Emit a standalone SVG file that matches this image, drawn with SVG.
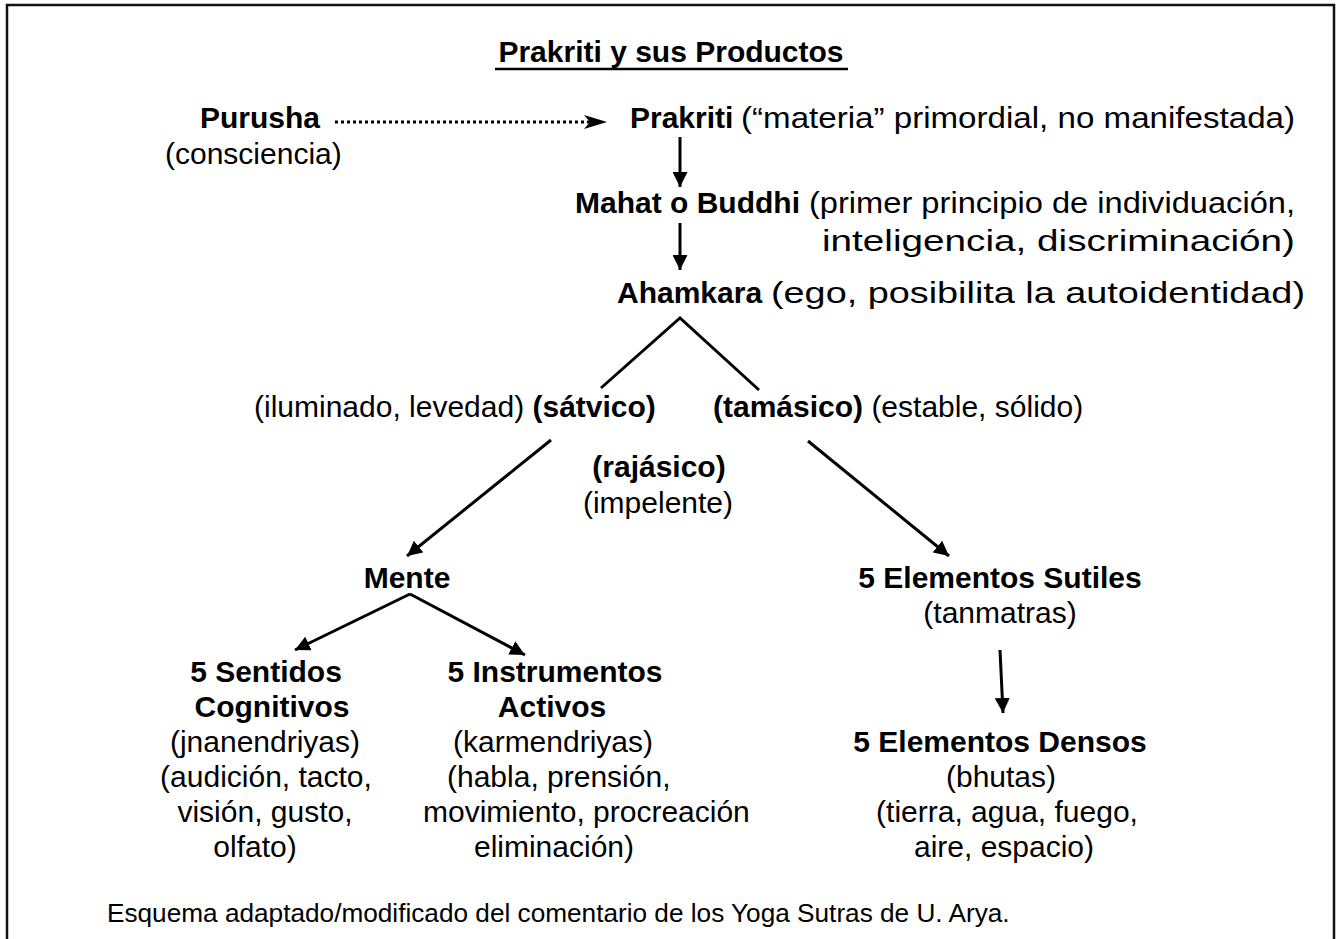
<svg xmlns="http://www.w3.org/2000/svg" width="1336" height="939" viewBox="0 0 1336 939">
<defs>
<style>
text{font-family:"Liberation Sans",Arial,sans-serif;font-size:30px;fill:#000}
.b{font-weight:bold}
.m{text-anchor:middle}
.ln{stroke:#000;stroke-width:3;fill:none}
.foot{font-size:26.2px}
</style>
<marker id="ah" viewBox="0 0 10 10" refX="10" refY="5" markerWidth="5" markerHeight="5" orient="auto" markerUnits="strokeWidth">
<path d="M0,0 L10,5 L0,10 z" fill="#000"/>
</marker>
</defs>
<rect x="7" y="5" width="1327" height="1000" fill="#fff" stroke="#111" stroke-width="2.5"/>
<g id="title">
<text class="b m" x="671" y="62">Prakriti y sus Productos</text>
<line x1="495" y1="69" x2="848" y2="69" stroke="#000" stroke-width="2.7"/>
</g>
<g id="purusha">
<text class="b" x="200" y="128">Purusha</text>
<text x="165" y="164">(consciencia)</text>
</g>
<g id="prakriti">
<text class="b" x="630" y="128">Prakriti</text>
<text x="741" y="128" textLength="554" lengthAdjust="spacingAndGlyphs">(“materia” primordial, no manifestada)</text>
</g>
<g id="mahat">
<text class="b" x="575" y="213">Mahat o Buddhi</text>
<text x="809" y="213" textLength="486" lengthAdjust="spacingAndGlyphs">(primer principio de individuación,</text>
<text x="822" y="251" textLength="473" lengthAdjust="spacingAndGlyphs">inteligencia, discriminación)</text>
</g>
<g id="ahamkara">
<text class="b" x="617" y="303">Ahamkara</text>
<text x="771" y="303" textLength="534" lengthAdjust="spacingAndGlyphs">(ego, posibilita la autoidentidad)</text>
</g>
<g id="satvico">
<text x="254" y="417">(iluminado, levedad) <tspan class="b">(sátvico)</tspan></text>
</g>
<g id="tamasico">
<text x="713" y="417"><tspan class="b">(tamásico)</tspan> (estable, sólido)</text>
</g>
<g id="rajasico">
<text class="b m" x="659" y="477">(rajásico)</text>
<text class="m" x="658" y="513">(impelente)</text>
</g>
<g id="mente">
<text class="b m" x="407" y="588">Mente</text>
</g>
<g id="sutiles">
<text class="b m" x="1000" y="588">5 Elementos Sutiles</text>
<text class="m" x="1000" y="623">(tanmatras)</text>
</g>
<g id="sentidos">
<text class="b m" x="266" y="682">5 Sentidos</text>
<text class="b m" x="272" y="717">Cognitivos</text>
<text class="m" x="265" y="752">(jnanendriyas)</text>
<text class="m" x="266" y="787">(audición, tacto,</text>
<text class="m" x="265" y="822">visión, gusto,</text>
<text class="m" x="255" y="857">olfato)</text>
</g>
<g id="instrumentos">
<text class="b m" x="555" y="682">5 Instrumentos</text>
<text class="b m" x="552" y="717">Activos</text>
<text class="m" x="553" y="752">(karmendriyas)</text>
<text x="447" y="787">(habla, prensión,</text>
<text x="423" y="822">movimiento, procreación</text>
<text class="m" x="554" y="857">eliminación)</text>
</g>
<g id="densos">
<text class="b m" x="1000" y="752">5 Elementos Densos</text>
<text class="m" x="1001" y="787">(bhutas)</text>
<text class="m" x="1007" y="822">(tierra, agua, fuego,</text>
<text class="m" x="1004" y="857">aire, espacio)</text>
</g>
<g id="nota">
<text class="foot" x="107" y="922">Esquema adaptado/modificado del comentario de los Yoga Sutras de U. Arya.</text>
</g>
<g id="connectors">
<line x1="335" y1="122" x2="590" y2="122" stroke="#000" stroke-width="3" stroke-dasharray="3 3"/>
<path d="M584,115 L607,122 L584,129 L590,122 z" fill="#000"/>
<line class="ln" x1="680" y1="137" x2="680" y2="187" marker-end="url(#ah)"/>
<line class="ln" x1="680" y1="223" x2="680" y2="270" marker-end="url(#ah)"/>
<polyline class="ln" points="601,388 680,318 759,390"/>
<line class="ln" x1="551" y1="440" x2="407" y2="556" marker-end="url(#ah)"/>
<line class="ln" x1="808" y1="441" x2="949" y2="556" marker-end="url(#ah)"/>
<line class="ln" x1="410" y1="594" x2="295" y2="650" marker-end="url(#ah)"/>
<line class="ln" x1="410" y1="594" x2="525" y2="655" marker-end="url(#ah)"/>
<line class="ln" x1="1000" y1="650" x2="1003" y2="713" marker-end="url(#ah)"/>
</g>
</svg>
